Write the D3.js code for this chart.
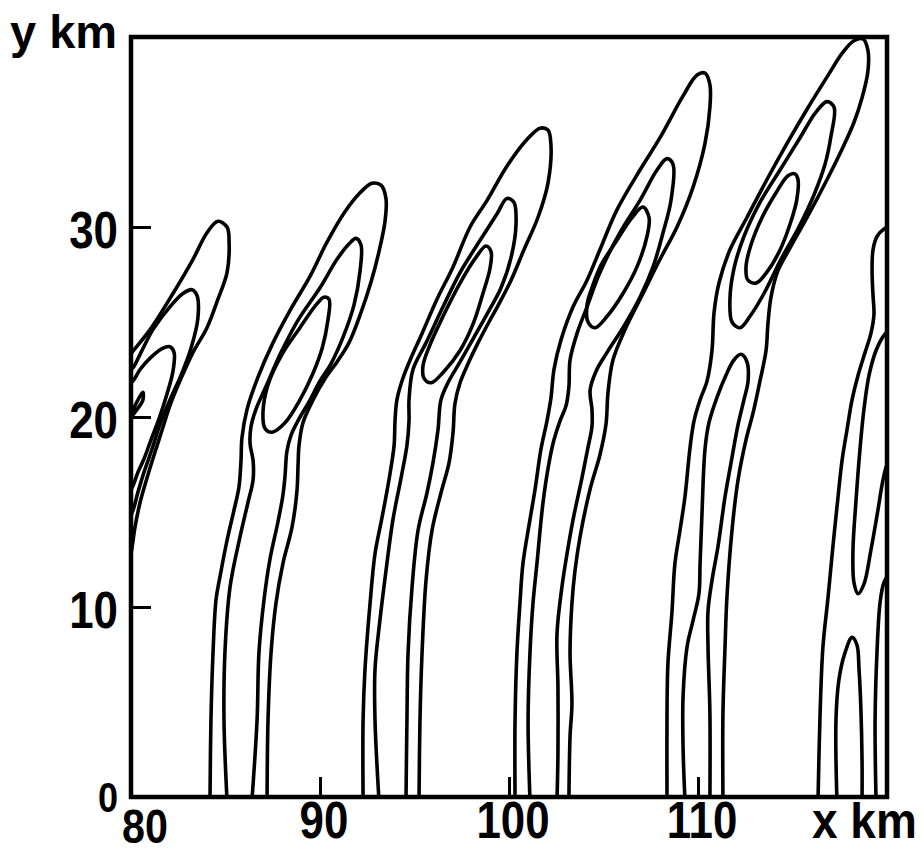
<!DOCTYPE html>
<html>
<head>
<meta charset="utf-8">
<script src="https://cdn.jsdelivr.net/npm/d3@7"></script>
<style>
  html, body { margin: 0; padding: 0; background: #fff; }
  svg { display: block; }
  text { font-family: "Liberation Sans", Arial, sans-serif; font-weight: bold; fill: #000; }
</style>
</head>
<body>
<svg id="chart" width="924" height="854"></svg>
<script>
// Axis extents (km)
const xExtent = [80, 120];
const yExtent = [0, 40];
const xTickValues = [90, 100, 110];
const yTickValues = [10, 20, 30];
const xLabelValues = [80, 90, 100, 110];
const yLabelValues = [0, 10, 20, 30];

// Contour traces, [x km, y km]
// Ridge A (cut by the left edge)
const ridgeA_outer = [[79.84,23.1],[80.05,23.4],[81.01,24.6],[82.22,26.5],[83.28,28.3],[84.02,29.7],[84.6,30.3],[85.08,30.0],[85.19,29.2],[85.08,27.6],[84.6,26.2],[84.02,24.7],[83.28,23.4],[82.59,21.9],[82.06,20.6],[81.64,19.3],[81.22,18.0],[80.85,16.8],[80.48,15.5],[80.21,14.2],[80.05,13.1],[79.84,12.05]];
const ridgeA_middle = [[79.84,22.4],[80.11,22.6],[80.48,23.3],[81.16,24.6],[82.06,25.8],[82.75,26.5],[83.23,26.7],[83.49,26.4],[83.54,25.2],[83.17,23.6],[82.65,22.2],[82.06,20.9],[81.53,19.6],[81.11,18.3],[80.69,17.1],[80.37,16.05],[80.11,15.1],[79.84,14.5]];
const ridgeA_inner = [[79.84,21.7],[80.11,21.9],[80.48,22.5],[81.01,23.1],[81.64,23.6],[82.06,23.7],[82.28,23.4],[82.22,22.4],[81.9,21.2],[81.48,19.9],[81.06,18.8],[80.69,17.8],[80.37,17.1],[80.11,16.4],[79.84,15.9]];
const ridgeA_spike = [[79.84,19.9],[80.16,20.5],[80.48,21.1],[80.63,21.3],[80.63,20.9],[80.32,20.4],[79.84,19.8]];

// Ridge B
const ridgeB_outer = [[84.18,-0.16],[84.23,4.05],[84.34,7.6],[84.5,10.4],[84.71,11.6],[85.08,13.5],[85.45,15.1],[85.71,16.3],[85.82,17.7],[85.87,18.9],[86.14,20.4],[86.72,22.1],[87.51,23.9],[88.41,25.6],[89.47,27.4],[90.37,29.2],[91.32,30.8],[92.12,31.8],[92.75,32.3],[93.23,32.2],[93.49,31.5],[93.44,30.3],[93.12,28.7],[92.7,27.1],[92.17,25.5],[91.53,23.9],[90.9,22.9],[90.32,22.1],[89.63,20.9],[89.1,19.7],[88.89,18.5],[88.84,17.5],[88.78,16.1],[88.52,14.2],[88.04,12.3],[87.67,10.2],[87.41,7.6],[87.25,4.05],[87.2,-0.16]];
const ridgeB_middle = [[85.08,-0.16],[84.92,4.05],[84.97,7.6],[85.24,11.05],[85.77,13.7],[86.19,15.5],[86.46,16.7],[86.46,17.7],[86.3,18.6],[86.35,19.5],[86.61,20.4],[87.14,21.6],[87.94,23.4],[88.84,25.1],[90.0,26.8],[90.9,28.3],[91.53,29.1],[91.9,29.4],[92.17,29.05],[92.12,27.7],[91.8,25.9],[91.22,24.2],[90.58,22.8],[90.0,21.9],[89.42,20.8],[88.89,19.9],[88.47,19.05],[88.25,18.2],[88.15,16.9],[88.04,15.9],[87.78,14.5],[87.35,12.5],[87.04,10.4],[86.77,7.6],[86.67,4.05],[86.4,-0.16]];
const ridgeB_inner = [[90.48,26.2],[90.42,25.1],[90.11,23.6],[89.63,22.3],[88.94,20.9],[88.15,19.7],[87.46,19.2],[87.09,19.4],[86.98,20.2],[87.25,21.7],[87.99,23.3],[88.94,24.7],[89.79,25.9],[90.21,26.3]];

// Ridge C
const ridgeC_outer = [[92.28,-0.16],[92.28,4.05],[92.38,6.7],[92.65,10.2],[92.91,12.8],[93.28,14.7],[93.65,16.7],[93.92,18.5],[93.97,19.8],[94.07,20.9],[94.39,22.05],[94.81,23.1],[95.4,24.4],[96.19,26.2],[97.04,27.9],[97.94,30.0],[98.84,31.4],[99.89,33.2],[100.95,34.6],[101.64,35.2],[102.06,35.1],[102.22,34.3],[102.06,32.3],[101.53,30.5],[100.79,28.8],[100.11,27.2],[99.52,26.05],[98.94,25.0],[98.36,23.9],[97.83,22.8],[97.41,21.8],[97.14,20.7],[97.04,19.2],[96.83,17.6],[96.4,16.0],[95.93,14.05],[95.61,11.4],[95.4,7.6],[95.29,4.05],[95.24,-0.16]];
const ridgeC_middle = [[93.12,-0.16],[92.91,4.05],[92.91,6.7],[93.17,9.3],[93.49,11.9],[93.86,14.6],[94.29,16.8],[94.6,18.5],[94.71,19.8],[94.71,20.9],[94.92,22.5],[95.61,23.9],[96.51,25.8],[97.41,27.6],[98.47,29.3],[99.37,30.7],[99.89,31.5],[100.26,31.3],[100.37,30.1],[100.11,28.4],[99.58,26.8],[98.94,25.6],[98.15,24.2],[97.41,22.9],[96.77,21.8],[96.4,20.9],[96.24,19.3],[95.98,17.6],[95.66,16.0],[95.19,14.05],[94.87,11.05],[94.66,7.6],[94.6,4.05],[94.55,-0.16]];
const ridgeC_inner = [[99.05,28.7],[98.99,27.8],[98.62,26.5],[98.1,24.9],[97.41,23.5],[96.56,22.4],[95.87,21.8],[95.5,22.05],[95.45,22.7],[95.82,23.8],[96.51,25.3],[97.41,27.05],[98.25,28.4],[98.78,29.0]];

// Ridge D
const ridgeD_outer = [[100.32,-0.16],[100.32,4.05],[100.42,7.6],[100.58,10.2],[100.74,12.3],[101.11,14.6],[101.38,16.2],[101.69,18.3],[102.01,19.8],[102.22,21.0],[102.38,22.5],[102.75,24.05],[103.39,25.8],[104.13,27.2],[104.81,28.8],[105.71,30.9],[106.93,33.0],[107.99,34.7],[109.21,36.9],[109.95,38.0],[110.37,38.1],[110.63,37.5],[110.63,36.3],[110.37,34.4],[109.74,32.1],[108.89,30.0],[107.99,28.3],[107.09,26.5],[106.14,24.6],[105.5,23.0],[105.24,21.3],[105.13,19.6],[104.81,18.0],[104.29,16.2],[103.76,13.7],[103.49,11.9],[103.33,10.2],[103.23,7.6],[103.33,4.9],[103.23,3.2],[103.17,-0.16]];
const ridgeD_middle = [[101.11,-0.16],[101.01,4.05],[101.11,7.6],[101.27,10.2],[101.48,12.3],[101.8,15.5],[102.12,17.6],[102.38,18.8],[102.7,19.8],[103.02,20.6],[103.17,21.6],[103.23,23.0],[103.6,24.4],[104.13,25.8],[104.81,27.6],[105.87,29.7],[106.93,31.4],[107.83,33.0],[108.36,33.6],[108.68,33.3],[108.57,31.4],[108.15,29.7],[107.62,27.9],[106.93,26.3],[106.03,24.7],[105.19,23.4],[104.6,22.4],[104.29,21.4],[104.39,20.4],[104.39,19.5],[104.18,18.4],[103.86,16.8],[103.39,14.6],[103.07,12.8],[102.8,11.05],[102.54,8.6],[102.59,5.8],[102.59,2.3],[102.54,-0.16]];
const ridgeD_inner = [[107.41,30.5],[107.3,29.5],[106.77,27.9],[106.03,26.5],[105.19,25.3],[104.55,24.7],[104.18,25.0],[104.13,25.9],[104.39,26.8],[104.87,28.0],[105.71,29.3],[106.51,30.5],[107.09,31.05]];

// Ridge E
const ridgeE_outer = [[108.36,-0.16],[108.36,4.4],[108.41,7.05],[108.62,9.7],[108.78,12.3],[109.05,14.05],[109.31,15.8],[109.58,18.4],[109.79,19.8],[110.11,20.9],[110.48,21.9],[110.74,23.5],[110.85,25.5],[111.11,27.05],[111.69,28.8],[112.59,30.5],[113.65,32.5],[114.71,34.4],[115.77,36.2],[116.83,37.9],[117.67,39.2],[118.25,39.8],[118.73,39.9],[118.99,39.3],[118.99,38.2],[118.68,36.8],[118.25,35.5],[117.67,34.2],[116.83,32.5],[115.77,30.5],[114.87,28.9],[114.23,27.7],[113.86,26.3],[113.7,24.9],[113.6,23.5],[113.28,21.9],[112.91,20.2],[112.54,18.8],[112.12,16.7],[111.8,14.05],[111.53,10.5],[111.43,7.9],[111.32,4.4],[111.32,-0.16]];
const ridgeE_upper = [[117.2,36.3],[117.04,34.8],[116.72,33.3],[116.14,31.7],[115.34,30.0],[114.39,28.3],[113.49,26.5],[112.75,25.3],[112.22,24.7],[111.8,25.0],[111.69,26.2],[111.9,27.8],[112.43,29.5],[113.28,31.3],[114.34,33.0],[115.4,34.7],[116.24,36.05],[116.83,36.6]];
const ridgeE_inner = [[115.29,32.5],[115.22,31.4],[114.92,30.3],[114.39,28.9],[113.7,27.7],[113.07,27.05],[112.64,27.2],[112.54,27.9],[112.8,29.05],[113.39,30.5],[114.13,31.8],[114.76,32.7],[115.13,32.8]];
const ridgeE_lower = [[109.31,-0.16],[109.21,2.6],[109.21,5.3],[109.42,7.9],[109.74,9.3],[110.05,10.7],[110.11,12.3],[110.21,14.9],[110.37,18.3],[110.58,19.7],[111.01,21.05],[111.48,22.2],[111.9,23.0],[112.28,23.3],[112.59,22.9],[112.65,21.9],[112.43,20.9],[112.12,19.6],[111.75,17.6],[111.43,15.8],[111.06,13.2],[110.74,11.4],[110.53,9.8],[110.53,7.9],[110.63,4.4],[110.63,-0.16]];

// Ridge F (cut by the right edge)
const ridgeF_outer = [[116.35,-0.16],[116.46,4.4],[116.61,7.9],[116.88,10.5],[117.14,13.2],[117.41,15.8],[117.62,17.7],[117.88,19.3],[118.15,20.9],[118.47,22.2],[118.84,23.4],[119.15,24.4],[119.31,25.4],[119.26,26.4],[119.21,27.7],[119.26,28.8],[119.47,29.5],[119.84,29.9],[120.26,30.05]];
const ridgeF_lower = [[117.35,-0.16],[117.3,4.05],[117.46,6.2],[117.78,7.6],[118.15,8.4],[118.41,8.0],[118.52,6.7],[118.62,4.6],[118.68,1.9],[118.68,-0.16]];
const ridgeF_edge = [[119.42,-0.16],[119.37,4.05],[119.47,7.6],[119.63,10.2],[119.84,11.3],[120.16,11.8]];
const ridgeF_upper = [[120.26,24.7],[119.84,24.3],[119.42,23.5],[119.05,22.2],[118.78,20.4],[118.57,18.3],[118.36,15.6],[118.2,13.0],[118.25,11.3],[118.47,10.7],[118.78,11.2],[119.15,13.0],[119.52,15.1],[119.79,16.7],[120.0,17.5],[120.26,18.0]];

const contours = [
  { pts: ridgeA_outer, closed: false },
  { pts: ridgeA_middle, closed: false },
  { pts: ridgeA_inner, closed: false },
  { pts: ridgeA_spike, closed: false },
  { pts: ridgeB_outer, closed: false },
  { pts: ridgeB_middle, closed: false },
  { pts: ridgeB_inner, closed: true },
  { pts: ridgeC_outer, closed: false },
  { pts: ridgeC_middle, closed: false },
  { pts: ridgeC_inner, closed: true },
  { pts: ridgeD_outer, closed: false },
  { pts: ridgeD_middle, closed: false },
  { pts: ridgeD_inner, closed: true },
  { pts: ridgeE_outer, closed: false },
  { pts: ridgeE_upper, closed: true },
  { pts: ridgeE_inner, closed: true },
  { pts: ridgeE_lower, closed: false },
  { pts: ridgeF_outer, closed: false },
  { pts: ridgeF_lower, closed: false },
  { pts: ridgeF_edge, closed: false },
  { pts: ridgeF_upper, closed: false }
];

const plot = { left: 131, top: 37, right: 887, bottom: 797 };

const x = d3.scaleLinear().domain(xExtent).range([plot.left, plot.right]);
const y = d3.scaleLinear().domain(yExtent).range([plot.bottom, plot.top]);

const svg = d3.select("#chart");

svg.append("defs").append("clipPath").attr("id", "plotClip")
  .append("rect")
  .attr("x", plot.left).attr("y", plot.top)
  .attr("width", plot.right - plot.left)
  .attr("height", plot.bottom - plot.top);

const openLine = d3.line()
  .x(d => x(d[0])).y(d => y(d[1]))
  .curve(d3.curveCatmullRom.alpha(0.5));
const closedLine = d3.line()
  .x(d => x(d[0])).y(d => y(d[1]))
  .curve(d3.curveCatmullRomClosed.alpha(0.5));

// contour lines
svg.append("g")
  .attr("clip-path", "url(#plotClip)")
  .selectAll("path")
  .data(contours)
  .join("path")
  .attr("d", c => (c.closed ? closedLine : openLine)(c.pts))
  .attr("fill", "none")
  .attr("stroke", "#000")
  .attr("stroke-width", 3.6)
  .attr("stroke-linejoin", "round")
  .attr("stroke-linecap", "round");

// inward ticks
svg.append("g")
  .attr("transform", `translate(0,${plot.bottom})`)
  .call(d3.axisBottom(x).tickValues(xTickValues).tickSize(-20).tickSizeOuter(0).tickFormat(""))
  .call(g => g.select(".domain").remove())
  .call(g => g.selectAll("line").attr("stroke", "#000").attr("stroke-width", 3));

svg.append("g")
  .attr("transform", `translate(${plot.left},0)`)
  .call(d3.axisLeft(y).tickValues(yTickValues).tickSize(-20).tickSizeOuter(0).tickFormat(""))
  .call(g => g.select(".domain").remove())
  .call(g => g.selectAll("line").attr("stroke", "#000").attr("stroke-width", 3));

// frame
svg.append("rect")
  .attr("x", plot.left).attr("y", plot.top)
  .attr("width", plot.right - plot.left)
  .attr("height", plot.bottom - plot.top)
  .attr("fill", "none")
  .attr("stroke", "#000")
  .attr("stroke-width", 4.5);

// y tick labels
svg.append("g").selectAll("g")
  .data(yLabelValues)
  .join("g")
  .attr("transform", v => `translate(118,${y(v) + (v === 0 ? 15 : 21)}) scale(0.86,1)`)
  .append("text")
  .attr("text-anchor", "end")
  .attr("font-size", v => v === 0 ? 42 : 51)
  .text(v => v);

// x tick labels (the first one sits lower, beside the corner zero)
svg.append("g").selectAll("g")
  .data(xLabelValues)
  .join("g")
  .attr("transform", v => `translate(${x(v) + (v === 80 ? 14 : 4)},${v === 80 ? 843 : 838}) scale(0.86,1)`)
  .append("text")
  .attr("text-anchor", "middle")
  .attr("font-size", v => v === 80 ? 48 : 51)
  .text(v => v);

// axis titles
svg.append("text")
  .attr("x", 10).attr("y", 48)
  .attr("font-size", 47)
  .text("y km");

svg.append("g")
  .attr("transform", "translate(812,838) scale(0.92,1)")
  .append("text")
  .attr("font-size", 50)
  .text("x km");
</script>
</body>
</html>
